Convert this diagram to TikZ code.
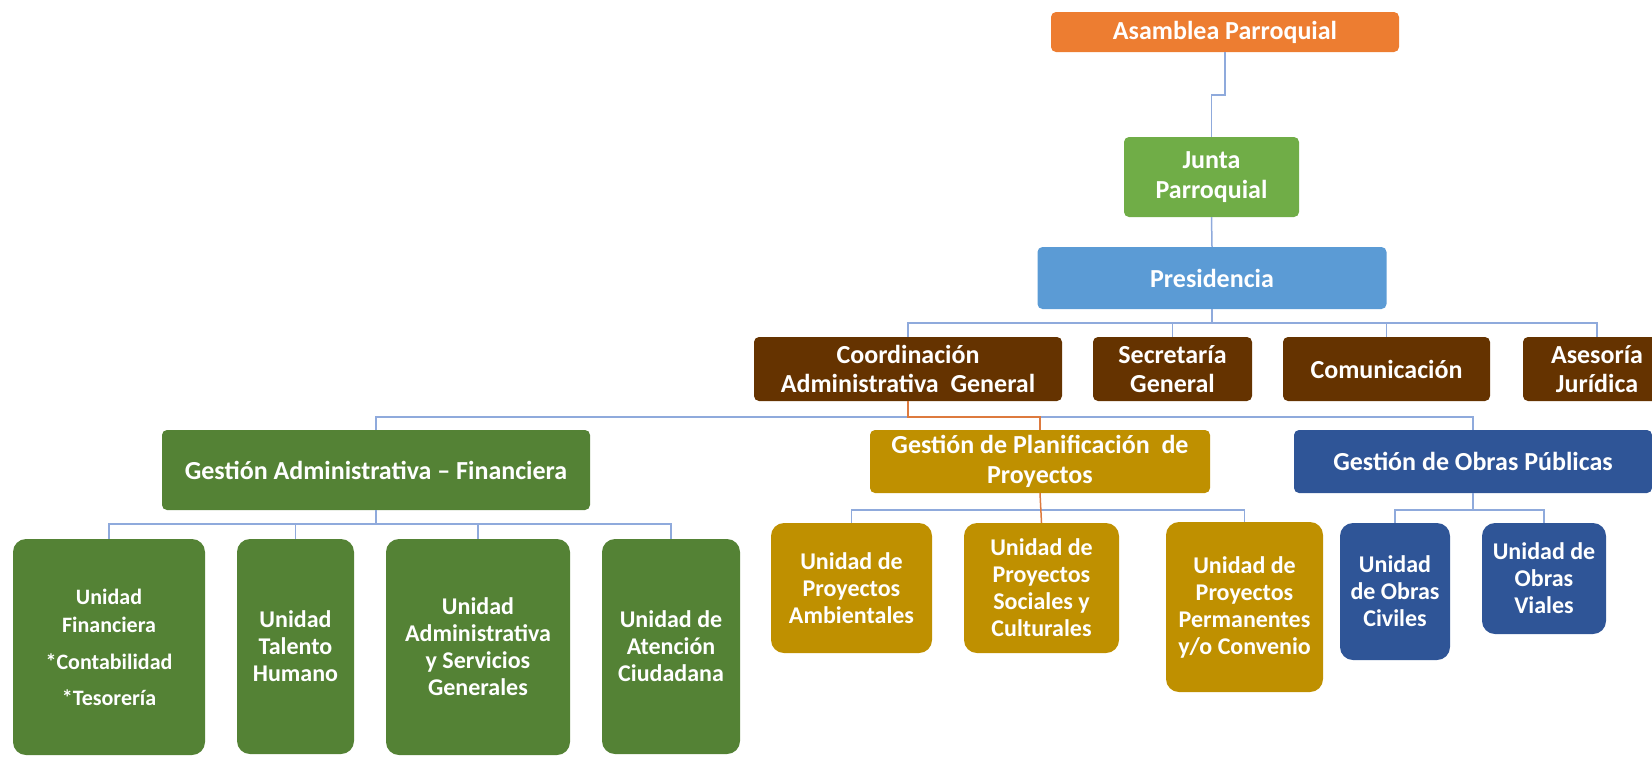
\documentclass[tikz,border=0pt]{standalone}
\usepackage{fontspec}
\setmainfont{Carlito}
\definecolor{cOrange}{HTML}{ED7D31}
\definecolor{cGreen}{HTML}{70AD47}
\definecolor{cBlue}{HTML}{5B9BD5}
\definecolor{cBrown}{HTML}{653300}
\definecolor{cDGreen}{HTML}{548235}
\definecolor{cGold}{HTML}{BF9000}
\definecolor{cNavy}{HTML}{2F5597}
\definecolor{cLine}{HTML}{8FAADC}
\definecolor{cHl}{HTML}{DD7A3E}
\begin{document}
\begin{tikzpicture}[x=1pt,y=-1pt,
  box/.style={draw=none, text=white, font=\bfseries\fontsize{26}{29.5}\selectfont,
    align=center, inner sep=0pt, rounded corners=5pt},
  unit/.style={box, rounded corners=13pt, font=\bfseries\fontsize{24}{27}\selectfont},
  conn/.style={draw=cLine, line width=1.5pt},
  hl/.style={draw=cHl, line width=1.5pt}]
\useasboundingbox (0,0) rectangle (1652,756);
% top levels
\node[box, fill=cOrange, minimum width=348pt, minimum height=40pt] (asam) at (1225,32) {Asamblea Parroquial};
\node[box, fill=cGreen, minimum width=175pt, minimum height=80pt] (junta) at (1211.5,177) {Junta\\Parroquial};
\node[box, fill=cBlue, minimum width=349pt, minimum height=62pt] (pres) at (1212,278) {Presidencia};
% brown level
\node[box, fill=cBrown, minimum width=308pt, minimum height=64pt] (coord) at (908,369) {Coordinación\\Administrativa~~General};
\node[box, fill=cBrown, minimum width=159pt, minimum height=64pt] (secr) at (1172.5,369) {Secretaría\\General};
\node[box, fill=cBrown, minimum width=207pt, minimum height=64pt] (comu) at (1386.5,369) {Comunicación};
\node[box, fill=cBrown, minimum width=148pt, minimum height=64pt] (ases) at (1597,369) {Asesoría\\Jurídica};
% gestion level
\node[box, fill=cDGreen, minimum width=428pt, minimum height=80pt] (gadm) at (376,470) {Gestión Administrativa – Financiera};
\node[box, fill=cGold, minimum width=340pt, minimum height=63pt] (gplan) at (1040,461.5) {Gestión de Planificación~ de\\Proyectos};
\node[box, fill=cNavy, minimum width=358pt, minimum height=63pt] (gobr) at (1473,461.5) {Gestión de Obras Públicas};
% units
\node[unit, fill=cDGreen, minimum width=192pt, minimum height=216pt, font=\bfseries\fontsize{22}{28}\selectfont] (ufin) at (109,647) {Unidad\\Financiera\\[9pt]*Contabilidad\\[8pt]*Tesorería};
\node[unit, fill=cDGreen, minimum width=117pt, minimum height=215pt] (utal) at (295.5,646.5) {Unidad\\Talento\\Humano};
\node[unit, fill=cDGreen, minimum width=184pt, minimum height=216pt] (uadm) at (478,647) {Unidad\\Administrativa\\y Servicios\\Generales};
\node[unit, fill=cDGreen, minimum width=138pt, minimum height=215pt] (uaten) at (671,646.5) {Unidad de\\Atención\\Ciudadana};
\node[unit, fill=cGold, minimum width=161pt, minimum height=130pt] (uamb) at (851.5,588) {Unidad de\\Proyectos\\Ambientales};
\node[unit, fill=cGold, minimum width=155pt, minimum height=130pt] (usoc) at (1041.5,588) {Unidad de\\Proyectos\\Sociales y\\Culturales};
\node[unit, fill=cGold, minimum width=157pt, minimum height=170pt] (uper) at (1244.5,607) {Unidad de\\Proyectos\\Permanentes\\y/o Convenio};
\node[unit, fill=cNavy, minimum width=110pt, minimum height=137pt] (uciv) at (1395,591.5) {Unidad\\de Obras\\Civiles};
\node[unit, fill=cNavy, minimum width=124pt, minimum height=111pt] (uvia) at (1544,578.5) {Unidad de\\Obras\\Viales};
% bus points
\coordinate (b1) at (1212,323);
\coordinate (b2) at (908,417);
\coordinate (b3) at (376,524);
\coordinate (b4) at (1040,510);
\coordinate (b5) at (1473,510);
% connectors
\draw[conn] (asam.south) -- ++(0,43) -| (junta.north);
\draw[conn] (junta.south) -- (pres.north);
\draw[conn] (pres.south) -- (b1);
\draw[conn] (b1) -| (coord.north);
\draw[conn] (b1) -| (secr.north);
\draw[conn] (b1) -| (comu.north);
\draw[conn] (b1) -| (ases.north);
\draw[conn] (b2) -| (gadm.north);
\draw[conn] (b2) -| (gobr.north);
\draw[conn] (gadm.south) -- (b3);
\draw[conn] (b3) -| (ufin.north);
\draw[conn] (b3) -| (utal.north);
\draw[conn] (b3) -| (uadm.north);
\draw[conn] (b3) -| (uaten.north);
\draw[conn] (b4) -| (uamb.north);
\draw[conn] (b4) -| (uper.north);
\draw[conn] (gobr.south) -- (b5);
\draw[conn] (b5) -| (uciv.north);
\draw[conn] (b5) -| (uvia.north);
\draw[hl] (coord.south) -- (b2) -| (gplan.north);
\draw[hl] (gplan.south) -- (usoc.north);
\end{tikzpicture}
\end{document}
